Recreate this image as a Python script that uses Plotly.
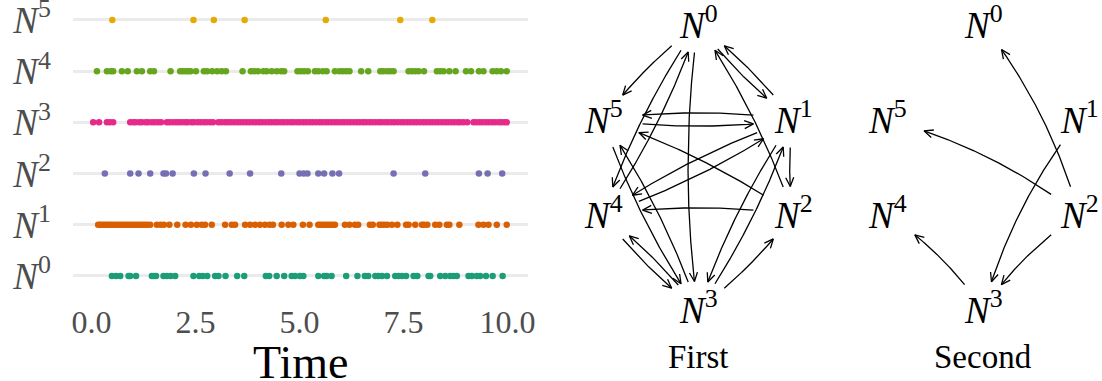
import numpy as np
import plotly.graph_objects as go

# ---------------- data ----------------
node_ids = [0, 1, 2, 3, 4, 5]
node_colors = ["#1b9e77", "#d95f02", "#7570b3", "#e7298a", "#66a61e", "#e6ab02"]

events_N0 = [0.49, 0.59, 0.69, 0.89, 0.93, 1.07, 1.45, 1.50, 1.55, 1.73, 1.81, 1.90, 2.01,
             2.45, 2.59, 2.67, 2.78, 2.97, 3.05, 3.22, 3.50, 3.67, 4.19, 4.27, 4.45, 4.63,
             4.81, 4.89, 5.01, 5.09, 5.45, 5.59, 5.65, 5.77, 6.12, 6.39, 6.57, 6.65, 6.82,
             6.89, 6.98, 7.10, 7.30, 7.38, 7.46, 7.56, 7.74, 7.83, 8.10, 8.14, 8.38, 8.50,
             8.62, 8.70, 8.78, 9.06, 9.14, 9.26, 9.34, 9.48, 9.64, 9.88]
events_N1 = [0.16, 0.21, 0.26, 0.31, 0.36, 0.41, 0.46, 0.52, 0.57, 0.63, 0.69, 0.75, 0.81,
             0.86, 0.92, 0.98, 1.04, 1.10, 1.16, 1.22, 1.28, 1.34, 1.41, 1.57, 1.66, 1.74,
             1.87, 2.06, 2.26, 2.39, 2.53, 2.65, 2.73, 2.89, 3.21, 3.37, 3.45, 3.69, 3.81,
             3.93, 4.05, 4.17, 4.28, 4.36, 4.57, 4.73, 4.85, 5.08, 5.24, 5.45, 5.50, 5.56,
             5.62, 5.68, 5.74, 5.80, 5.85, 6.09, 6.20, 6.33, 6.41, 6.69, 6.76, 6.92, 6.98,
             7.04, 7.11, 7.22, 7.35, 7.56, 7.62, 7.78, 7.94, 7.99, 8.07, 8.26, 8.36, 8.54,
             8.60, 8.84, 9.30, 9.42, 9.54, 9.74, 9.98]
events_N2 = [0.32, 0.93, 1.13, 1.41, 1.73, 1.79, 1.95, 2.46, 2.74, 3.32, 3.81, 4.56, 5.00,
             5.10, 5.19, 5.45, 5.59, 5.79, 5.95, 7.26, 8.02, 9.31, 9.52, 9.87]
events_N3 = [0.04, 0.18, 0.37, 0.44, 0.52, 0.93, 1.00, 1.06, 1.15, 1.21, 1.30, 1.36, 1.45,
             1.52, 1.60, 1.67, 1.81, 1.87, 1.95, 2.03, 2.10, 2.17, 2.25, 2.31, 2.40, 2.46,
             2.55, 2.62, 2.70, 2.77, 2.85, 2.92, 3.05, 3.12, 3.20, 3.27, 3.34, 3.42, 3.50,
             3.57, 3.65, 3.73, 3.80, 3.88, 3.95, 4.03, 4.10, 4.18, 4.26, 4.33, 4.41, 4.48,
             4.56, 4.63, 4.71, 4.79, 4.86, 4.94, 5.01, 5.09, 5.16, 5.24, 5.31, 5.39, 5.47,
             5.54, 5.62, 5.69, 5.77, 5.85, 5.92, 6.00, 6.07, 6.15, 6.22, 6.30, 6.38, 6.45,
             6.53, 6.60, 6.68, 6.75, 6.83, 6.91, 6.98, 7.06, 7.13, 7.21, 7.28, 7.36, 7.44,
             7.51, 7.59, 7.66, 7.74, 7.81, 7.89, 7.97, 8.04, 8.12, 8.19, 8.27, 8.34, 8.42,
             8.50, 8.57, 8.65, 8.72, 8.80, 8.86, 8.94, 9.03, 9.18, 9.25, 9.33, 9.40, 9.48,
             9.55, 9.63, 9.70, 9.78, 9.85, 9.92, 9.98]
events_N4 = [0.13, 0.37, 0.46, 0.52, 0.73, 0.87, 1.09, 1.21, 1.41, 1.50, 1.90, 2.13, 2.19,
             2.26, 2.32, 2.38, 2.51, 2.70, 2.78, 2.90, 3.02, 3.13, 3.23, 3.63, 3.83, 3.91,
             4.00, 4.13, 4.21, 4.33, 4.45, 4.56, 4.63, 4.95, 5.03, 5.11, 5.20, 5.37, 5.45,
             5.56, 5.65, 5.85, 5.96, 6.04, 6.12, 6.20, 6.48, 6.65, 6.94, 7.01, 7.10, 7.18,
             7.26, 7.62, 7.70, 7.78, 7.86, 7.99, 8.30, 8.38, 8.46, 8.60, 8.75, 9.00, 9.12,
             9.31, 9.42, 9.64, 9.74, 9.84, 9.98]
events_N5 = [0.50, 2.45, 2.94, 3.68, 5.63, 7.42, 8.19]
events = [events_N0, events_N1, events_N2, events_N3, events_N4, events_N5]

x_tick_vals = [0.0, 2.5, 5.0, 7.5, 10.0]
x_tick_text = ["0.0", "2.5", "5.0", "7.5", "10.0"]
x_title = "Time"

# graph layout (unit hexagon-like positions for N0..N5)
layout_x = [0, 1, 1, 0, -1, -1]
layout_y = [3, 1, -1, -3, -1, 1]

edges_first = [(0, 5), (0, 1), (1, 0), (2, 0), (0, 4), (4, 0), (0, 3), (1, 5), (5, 1),
               (2, 5), (1, 4), (4, 1), (2, 4), (5, 3), (3, 5), (4, 3), (3, 4), (1, 3),
               (3, 1), (3, 2), (1, 2)]
edges_second = [(2, 0), (2, 5), (1, 3), (2, 3), (3, 4)]
graph_titles = ["First", "Second"]

# ---------------- figure ----------------
W, H = 1102, 381
SERIF = "Liberation Serif"
X0_PX, X1_PX = 73, 528


def node_label(k, sup_px):
    return "<i>N</i><sup style='font-size:%dpx'>%d</sup>" % (sup_px, k)


fig = go.Figure()

for k in node_ids:
    fig.add_trace(go.Scatter(
        x=events[k], y=[k] * len(events[k]), mode="markers",
        marker=dict(color=node_colors[k], size=6.5, line=dict(width=0)),
        showlegend=False, hoverinfo="skip", xaxis="x", yaxis="y"))

# graph panels, drawn in pixel space on overlay axes (x2/y2)
panels = [
    dict(edges=edges_first, cx=698, cy=167, sx=95, sy=47.5, rad=0.07, title=graph_titles[0]),
    dict(edges=edges_second, cx=983, cy=167, sx=96, sy=47.5, rad=0.1, title=graph_titles[1]),
]
RX, RY = 40, 28
HEAD_L, HEAD_W = 9.0, 4.0

annotations = []
for p in panels:
    px = [p["cx"] + p["sx"] * lx for lx in layout_x]
    py = [p["cy"] - p["sy"] * ly for ly in layout_y]
    lx_all, ly_all = [], []
    for a, b in p["edges"]:
        x0, y0 = px[a], -py[a]
        x2, y2 = px[b], -py[b]
        dx, dy = x2 - x0, y2 - y0
        cxp = (x0 + x2) / 2 + p["rad"] * dy
        cyp = (y0 + y2) / 2 - p["rad"] * dx
        t = np.linspace(0, 1, 500)
        bx = (1 - t) ** 2 * x0 + 2 * (1 - t) * t * cxp + t ** 2 * x2
        by = -((1 - t) ** 2 * y0 + 2 * (1 - t) * t * cyp + t ** 2 * y2)
        ina = ((bx - px[a]) / RX) ** 2 + ((by - py[a]) / RY) ** 2 < 1
        inb = ((bx - px[b]) / RX) ** 2 + ((by - py[b]) / RY) ** 2 < 1
        keep = ~ina & ~inb
        sx_, sy_ = bx[keep], by[keep]
        lx_all += list(sx_) + [None]
        ly_all += list(sy_) + [None]
        tip = np.array([sx_[-1], sy_[-1]])
        back = np.array([sx_[-8], sy_[-8]])
        d = tip - back
        d = d / np.linalg.norm(d)
        n = np.array([-d[1], d[0]])
        h1 = tip - HEAD_L * d + HEAD_W * n
        h2 = tip - HEAD_L * d - HEAD_W * n
        lx_all += [h1[0], tip[0], h2[0], None]
        ly_all += [h1[1], tip[1], h2[1], None]
    fig.add_trace(go.Scatter(x=lx_all, y=ly_all, mode="lines",
                             line=dict(color="black", width=1.3),
                             showlegend=False, hoverinfo="skip", xaxis="x2", yaxis="y2"))
    for k in node_ids:
        annotations.append(dict(x=px[k], y=py[k] - 2, xref="x2", yref="y2",
                                text=node_label(k, 23), showarrow=False,
                                font=dict(family=SERIF, size=37, color="black"),
                                xanchor="center", yanchor="middle"))
    annotations.append(dict(x=p["cx"], y=357, xref="x2", yref="y2", text=p["title"],
                            showarrow=False, font=dict(family=SERIF, size=33, color="black"),
                            xanchor="center", yanchor="middle"))

# x-axis title ("Time") placed below the tick labels
annotations.append(dict(x=(X0_PX + X1_PX) / 2 / W, y=1 - 362 / H, xref="paper", yref="paper",
                        text=x_title, showarrow=False,
                        font=dict(family=SERIF, size=46, color="black"),
                        xanchor="center", yanchor="middle"))

fig.update_layout(
    width=W, height=H, margin=dict(l=0, r=0, t=0, b=0),
    paper_bgcolor="white", plot_bgcolor="rgba(0,0,0,0)",
    showlegend=False,
    xaxis=dict(domain=[X0_PX / W, X1_PX / W], range=[-0.445, 10.49], anchor="y",
               tickvals=x_tick_vals, ticktext=x_tick_text,
               tickfont=dict(family=SERIF, size=32, color="#4d4d4d"),
               showgrid=False, zeroline=False, showline=False, ticks="",
               ticklabelstandoff=0, automargin=False),
    yaxis=dict(domain=[1 - 300 / H, 1], range=[-0.47, 5.39], anchor="x",
               tickvals=node_ids, ticktext=[node_label(k, 23) for k in node_ids],
               tickfont=dict(family=SERIF, size=37, color="#4d4d4d"),
               showgrid=True, gridcolor="#ebebeb", gridwidth=2.5,
               zeroline=False, showline=False, ticks="", ticklabelstandoff=21,
               ticklabeloverflow="allow", automargin=False),
    xaxis2=dict(domain=[0.5, 1], range=[551, 1102], visible=False, anchor="y2",
                fixedrange=True, automargin=False),
    yaxis2=dict(domain=[0, 1], range=[381, 0], visible=False, anchor="x2",
                fixedrange=True, automargin=False),
    annotations=annotations,
)

fig.write_html("out.html")
